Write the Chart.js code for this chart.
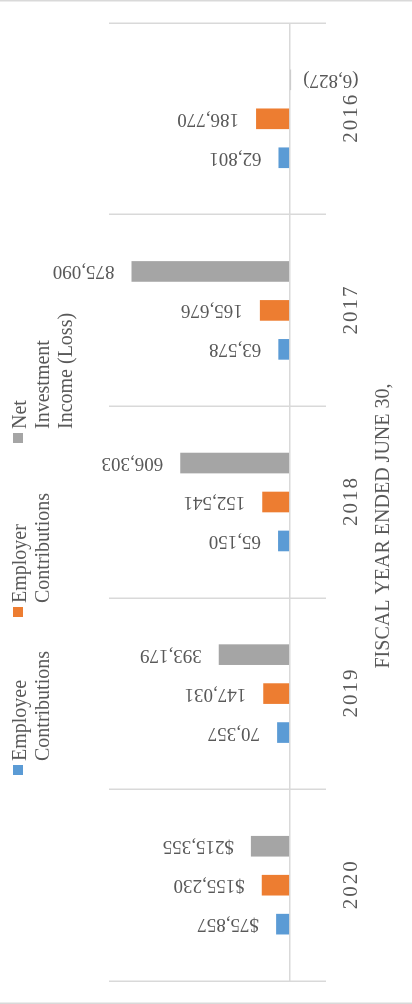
<!DOCTYPE html>
<html><head><meta charset="utf-8">
<script src="https://cdn.jsdelivr.net/npm/chart.js@4.4.0/dist/chart.umd.min.js"></script>
<style>
html,body{margin:0;padding:0;background:#fff;overflow:hidden;width:412px;height:1004px;}
#wrap{position:absolute;left:0;top:0;width:1004px;height:412px;transform-origin:0 0;transform:translate(0,1004px) rotate(-90deg);}
canvas{display:block;}
</style></head><body>
<div id="wrap"><canvas id="c" width="1004" height="412" style="width:1004px;height:412px"></canvas></div>
<script>
const years = ['2020','2019','2018','2017','2016'];
const employeeContrib = [75857, 70357, 65150, 63578, 62801];
const employerContrib = [155230, 147031, 152541, 165676, 186770];
const netInvestment = [215355, 393179, 606303, 875090, -6827];
const seriesNames = [['Employee','Contributions'],['Employer','Contributions'],['Net','Investment','Income (Loss)']];
const seriesColors = ['#5B9BD5','#ED7D31','#A5A5A5'];
const axisTitle = 'FISCAL YEAR ENDED JUNE 30,';
const valueMin = -200000, valueMax = 1000000;

const TXT = '#595959';
const SERIF = '"Liberation Serif", "DejaVu Serif", serif';

function fmt(v, i) {
  const s = Math.abs(v).toLocaleString('en-US');
  if (v < 0) return '(' + s + ')';
  return (i === 0 ? '$' : '') + s;
}

const drawPlugin = {
  id: 'drawExtras',
  afterDraw(chart) {
    const ctx = chart.ctx;
    const W = chart.width, H = chart.height;
    ctx.save();
    // outer border lines
    ctx.strokeStyle = '#D9D9D9';
    ctx.lineWidth = 1.5;
    ctx.beginPath();
    ctx.moveTo(0.75, 0); ctx.lineTo(0.75, H);
    ctx.moveTo(W - 0.75, 0); ctx.lineTo(W - 0.75, H);
    ctx.stroke();

    // data labels
    ctx.fillStyle = TXT;
    ctx.font = '19px ' + SERIF;
    ctx.textBaseline = 'middle';
    chart.data.datasets.forEach((ds, di) => {
      const meta = chart.getDatasetMeta(di);
      meta.data.forEach((el, i) => {
        const v = ds.data[i];
        const txt = fmt(v, i);
        ctx.save();
        if (v >= 0) {
          ctx.translate(el.x, el.y - 17);
          ctx.rotate(-Math.PI / 2);
          ctx.textAlign = 'left';
        } else {
          ctx.translate(el.x, el.y + 12);
          ctx.rotate(-Math.PI / 2);
          ctx.textAlign = 'right';
        }
        ctx.fillText(txt, 0, 0);
        ctx.restore();
      });
    });

    // category labels
    const xs = chart.scales.x;
    ctx.font = '21px ' + SERIF;
    ctx.textAlign = 'center';
    ctx.textBaseline = 'alphabetic';
    ctx.letterSpacing = '2px';
    years.forEach((y, i) => {
      ctx.fillText(y, xs.getPixelForValue(i) + 1, 357);
    });
    ctx.letterSpacing = '0px';

    // axis title
    ctx.font = '20px ' + SERIF;
    ctx.textAlign = 'center';
    ctx.fillText(axisTitle, 478, 389);

    // legend
    const legendX = [229, 387, 561];
    ctx.font = '20px ' + SERIF;
    ctx.textAlign = 'left';
    seriesNames.forEach((lines, k) => {
      ctx.fillStyle = seriesColors[k];
      ctx.fillRect(legendX[k], 13, 10, 10);
      ctx.fillStyle = TXT;
      lines.forEach((ln, j) => {
        ctx.fillText(ln, legendX[k] + 14, 26 + j * 23);
      });
    });
    ctx.restore();
  }
};

new Chart(document.getElementById('c'), {
  type: 'bar',
  data: {
    labels: years,
    datasets: [
      { label: 'Employee Contributions', data: employeeContrib, backgroundColor: seriesColors[0] },
      { label: 'Employer Contributions', data: employerContrib, backgroundColor: seriesColors[1] },
      { label: 'Net Investment Income (Loss)', data: netInvestment, backgroundColor: seriesColors[2] }
    ]
  },
  options: {
    responsive: false,
    animation: false,
    devicePixelRatio: 1,
    layout: { padding: { left: 23, right: 23, top: 109, bottom: 86 } },
    datasets: { bar: { categoryPercentage: 0.61, barPercentage: 0.53 } },
    plugins: { legend: { display: false }, tooltip: { enabled: false }, title: { display: false } },
    scales: {
      x: {
        display: true,
        ticks: { display: false },
        border: { display: false },
        grid: { offset: true, color: '#D9D9D9', lineWidth: 1.5, drawTicks: false }
      },
      y: {
        display: true,
        min: valueMin, max: valueMax,
        ticks: { display: false, stepSize: 200000 },
        border: { display: false },
        grid: { drawTicks: false, lineWidth: 1.5, color: c => (c.tick && c.tick.value === 0) ? '#D9D9D9' : 'rgba(0,0,0,0)' }
      }
    }
  },
  plugins: [drawPlugin]
});
</script>
</body></html>
